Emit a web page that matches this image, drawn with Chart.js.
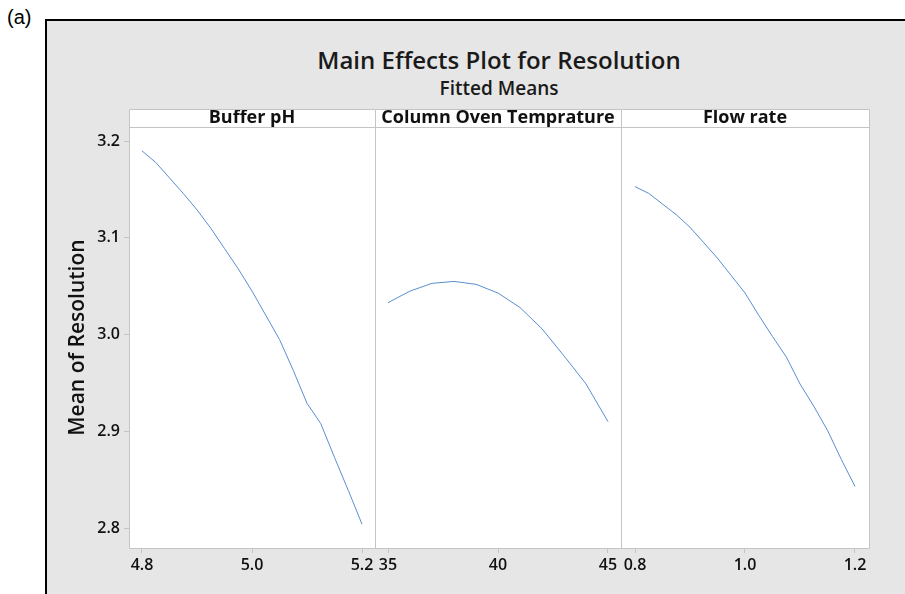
<!DOCTYPE html>
<html>
<head>
<meta charset="utf-8">
<script src="https://cdn.jsdelivr.net/npm/chart.js@4.4.0/dist/chart.umd.min.js"></script>
<style>
  html, body { margin: 0; padding: 0; background: #fff; overflow: hidden; }
  body { width: 905px; height: 594px; position: relative; font-family: "Open Sans", sans-serif; color: #1a1a1a; }
  #tag { position: absolute; left: 7px; top: 6px; font: 20px "Liberation Sans", Arial, sans-serif; color: #000; }
  #frame { position: absolute; left: 45px; top: 19px; width: 900px; height: 620px; border: 2px solid #000; background: #e6e6e6; }
  #title { position: absolute; left: 129px; width: 740px; top: 44px; text-align: center; font-weight: 600; font-size: 24px; line-height: 32px; }
  #subtitle { position: absolute; left: 129px; width: 740px; top: 76px; text-align: center; font-weight: 600; font-size: 19px; line-height: 24px; }
  canvas { position: absolute; }
</style>
</head>
<body>
<div id="tag">(a)</div>
<div id="frame"></div>
<div id="title">Main Effects Plot for Resolution</div>
<div id="subtitle">Fitted Means</div>
<canvas id="c1" style="left:48px; top:108px;"></canvas>
<canvas id="c2" style="left:362px; top:108px;"></canvas>
<canvas id="c3" style="left:608px; top:108px;"></canvas>
<script>
// valores
const bufferPH = [4.800, 4.825, 4.850, 4.875, 4.900, 4.925, 4.950, 4.975, 5.000, 5.025, 5.050, 5.075, 5.100, 5.125, 5.150, 5.175, 5.200];
const resBufferPH = [3.190, 3.178, 3.162, 3.146, 3.129, 3.110, 3.089, 3.068, 3.045, 3.020, 2.995, 2.963, 2.929, 2.908, 2.873, 2.839, 2.804];

const ovenTemp = [35, 36, 37, 38, 39, 40, 41, 42, 43, 44, 45];
const resOvenTemp = [3.033, 3.045, 3.053, 3.055, 3.052, 3.043, 3.028, 3.006, 2.978, 2.949, 2.910];

const flowRate = [0.800, 0.825, 0.850, 0.875, 0.900, 0.925, 0.950, 0.975, 1.000, 1.025, 1.050, 1.075, 1.100, 1.125, 1.150, 1.175, 1.200];
const resFlowRate = [3.153, 3.146, 3.135, 3.124, 3.111, 3.095, 3.079, 3.061, 3.043, 3.020, 2.998, 2.977, 2.949, 2.926, 2.901, 2.871, 2.843];

const bufferTicks = [4.8, 5.0, 5.2];
const bufferTickLabels = ['4.8', '5.0', '5.2'];
const ovenTicks = [35, 40, 45];
const ovenTickLabels = ['35', '40', '45'];
const flowTicks = [0.8, 1.0, 1.2];
const flowTickLabels = ['0.8', '1.0', '1.2'];

const yTicks = [2.8, 2.9, 3.0, 3.1, 3.2];
const yTickLabels = ['2.8', '2.9', '3.0', '3.1', '3.2'];

const panelTitles = ['Buffer pH', 'Column Oven Temprature', 'Flow rate'];

const lineaAzul = '#5a8fd0';
const gris = '#c4c4c4';
const texto = '#111';

// fondo blanco del panel y franja del titulo
const panelFrame = {
  id: 'panelFrame',
  beforeDraw(chart) {
    const { ctx, chartArea: a } = chart;
    ctx.save();
    ctx.fillStyle = '#fff';
    ctx.fillRect(a.left, a.top - 18, a.right - a.left, a.bottom - a.top + 18);
    ctx.restore();
  },
  afterDraw(chart, args, opts) {
    const { ctx, chartArea: a } = chart;
    const l = Math.round(a.left) + 0.5, r = Math.round(a.right) + 0.5;
    const t = Math.round(a.top - 18) + 0.5, m = Math.round(a.top) + 0.5, b = Math.round(a.bottom) + 0.5;
    ctx.save();
    ctx.strokeStyle = gris;
    ctx.lineWidth = 1;
    ctx.beginPath();
    ctx.moveTo(l, b); ctx.lineTo(l, t); ctx.lineTo(r, t);
    ctx.moveTo(l, m); ctx.lineTo(r, m);
    ctx.moveTo(l, b); ctx.lineTo(r, b);
    if (opts.last) { ctx.moveTo(r, t); ctx.lineTo(r, b); }
    ctx.stroke();
    ctx.restore();
  }
};

function makePanel(id, width, xs, ys, ticks, tickLabels, unitPerPx, title, withY, pad) {
  const half = (width / 2) * unitPerPx;
  const mid = (ticks[0] + ticks[ticks.length - 1]) / 2;
  const yPx = 0.1 / 96.9;
  return new Chart(document.getElementById(id), {
    type: 'line',
    data: {
      datasets: [{
        data: xs.map((x, i) => ({ x: x, y: ys[i] })),
        borderColor: lineaAzul,
        borderWidth: 1,
        pointRadius: 0,
        fill: false,
        tension: 0
      }]
    },
    options: {
      responsive: false,
      animation: false,
      layout: { padding: { left: pad.left, right: pad.right, top: 0, bottom: 0 } },
      plugins: {
        legend: { display: false },
        tooltip: { enabled: false },
        panelFrame: { last: pad.last },
        title: {
          display: true,
          text: title,
          fullSize: false,
          color: texto,
          font: { family: 'Open Sans', size: 18, weight: '700', lineHeight: 19.2 / 18 },
          padding: { top: 0, bottom: 0 }
        }
      },
      scales: {
        x: {
          type: 'linear',
          min: mid - half,
          max: mid + half,
          afterBuildTicks: (axis) => { axis.ticks = ticks.map(v => ({ value: v })); },
          afterFit: (scale) => { scale.height = 46; },
          grid: { drawOnChartArea: false, drawTicks: true, tickLength: 5, color: gris },
          border: { display: false },
          ticks: {
            color: texto,
            padding: 3,
            maxRotation: 0,
            autoSkip: false,
            font: { family: 'Open Sans', size: 16, weight: '600' },
            callback: (v, i) => tickLabels[i]
          }
        },
        y: {
          display: withY,
          min: 2.8 - 20 * yPx,
          max: 3.2 + 14 * yPx,
          afterBuildTicks: (axis) => { axis.ticks = yTicks.map(v => ({ value: v })); },
          afterFit: (scale) => { scale.width = withY ? 81 : 0; },
          grid: { drawOnChartArea: false, drawTicks: true, tickLength: 5, color: gris },
          border: { display: false },
          title: {
            display: true,
            text: 'Mean of Resolution',
            color: texto,
            font: { family: 'Open Sans', size: 21, weight: '600', lineHeight: 1.2 },
            padding: { top: 17, bottom: 0 }
          },
          ticks: {
            color: texto,
            padding: 4,
            autoSkip: false,
            font: { family: 'Open Sans', size: 16, weight: '600' },
            callback: (v, i) => yTickLabels[i]
          }
        }
      }
    },
    plugins: [panelFrame]
  });
}

function sizeCanvas(id, w, h) {
  const c = document.getElementById(id);
  c.width = w; c.height = h;
  c.style.width = w + 'px'; c.style.height = h + 'px';
}

sizeCanvas('c1', 340, 486);
sizeCanvas('c2', 272, 486);
sizeCanvas('c3', 297, 486);

makePanel('c1', 246, bufferPH, resBufferPH, bufferTicks, bufferTickLabels, 0.2 / 110, panelTitles[0], true, { left: 0, right: 13, last: false });
makePanel('c2', 246, ovenTemp, resOvenTemp, ovenTicks, ovenTickLabels, 5 / 110, panelTitles[1], false, { left: 13, right: 13, last: false });
makePanel('c3', 248, flowRate, resFlowRate, flowTicks, flowTickLabels, 0.2 / 110, panelTitles[2], false, { left: 13, right: 36, last: true });
</script>
</body>
</html>
